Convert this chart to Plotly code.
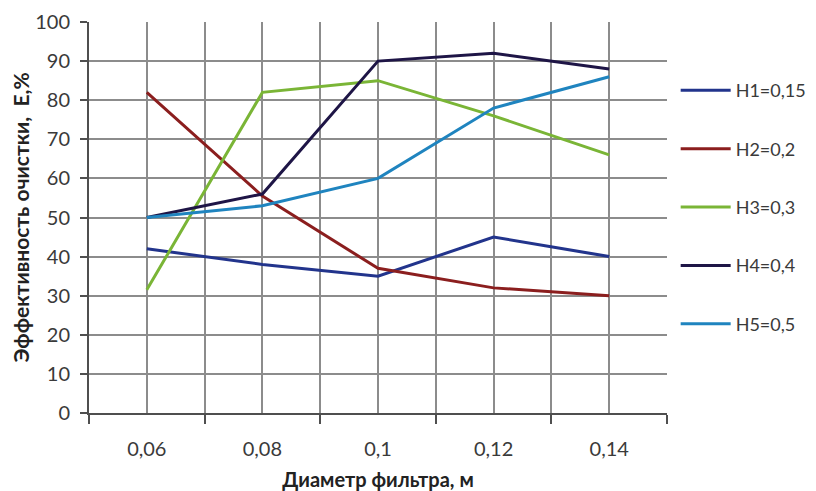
import plotly.graph_objects as go

categories = ["0,06", "0,08", "0,1", "0,12", "0,14"]
series_names = ["H1=0,15", "H2=0,2", "H3=0,3", "H4=0,4", "H5=0,5"]
h1 = [42, 38, 35, 45, 40]
h2 = [82, 55.5, 37, 32, 30]
h3 = [31.5, 82, 85, 76, 66]
h4 = [50, 56, 90, 92, 88]
h5 = [50, 53, 60, 78, 86]
colors = ["#22348C", "#8B1E1E", "#7AB536", "#1E1546", "#1F84BF"]
y_ticks = list(range(0, 101, 10))

FONT = "Lato, 'Open Sans', sans-serif"
TXT = "#3a3a3a"
x_pos = list(range(len(categories)))

fig = go.Figure()
for i, (name, vals, col) in enumerate(zip(series_names, [h1, h2, h3, h4, h5], colors)):
    fig.add_trace(go.Scatter(
        x=x_pos, y=vals, mode="lines", name=name,
        line=dict(color=col, width=3),
        legendgroup=f"g{i}",
    ))

grid_col = "#8c8c8c"
axis_col = "#4f4f4f"
fig.update_layout(
    width=808, height=483,
    margin=dict(l=81, r=149, t=14, b=78, autoexpand=False),
    paper_bgcolor="white", plot_bgcolor="white",
    font=dict(family=FONT, size=20, color=TXT),
    showlegend=True,
    legend=dict(
        x=1.015, xanchor="left", y=0.872, yanchor="top",
        tracegroupgap=32, font=dict(size=18, color=TXT),
        itemwidth=50,
        bgcolor="rgba(0,0,0,0)",
    ),
    xaxis=dict(
        range=[-0.5, len(categories) - 0.5],
        tickmode="array", tickvals=x_pos, ticktext=categories,
        ticks="", showgrid=True, gridcolor=grid_col, gridwidth=2,
        showline=True, linecolor=axis_col, linewidth=2,
        zeroline=False, automargin=False,
        minor=dict(tickmode="array",
                   tickvals=[p - 0.5 for p in x_pos] + [len(categories) - 0.5],
                   ticks="outside", ticklen=9, tickcolor=axis_col, tickwidth=2,
                   showgrid=True, gridcolor=grid_col, gridwidth=2),
        ticklabelstandoff=17,
        title=dict(text="<b>Диаметр фильтра, м</b>", font=dict(size=20, color="#222222"), standoff=14),
        fixedrange=True,
    ),
    yaxis=dict(
        range=[0, 100], tickmode="array", tickvals=y_ticks,
        ticks="outside", ticklen=7, tickcolor=axis_col, tickwidth=2,
        showgrid=True, gridcolor=grid_col, gridwidth=2,
        showline=True, linecolor=axis_col, linewidth=2,
        zeroline=False, automargin=False,
        ticklabelstandoff=6,
        title=dict(text="<b>Эффективность очистки,  Е,%</b>", font=dict(size=21, color="#222222"), standoff=12),
    ),
)

fig.write_html("out.html")
